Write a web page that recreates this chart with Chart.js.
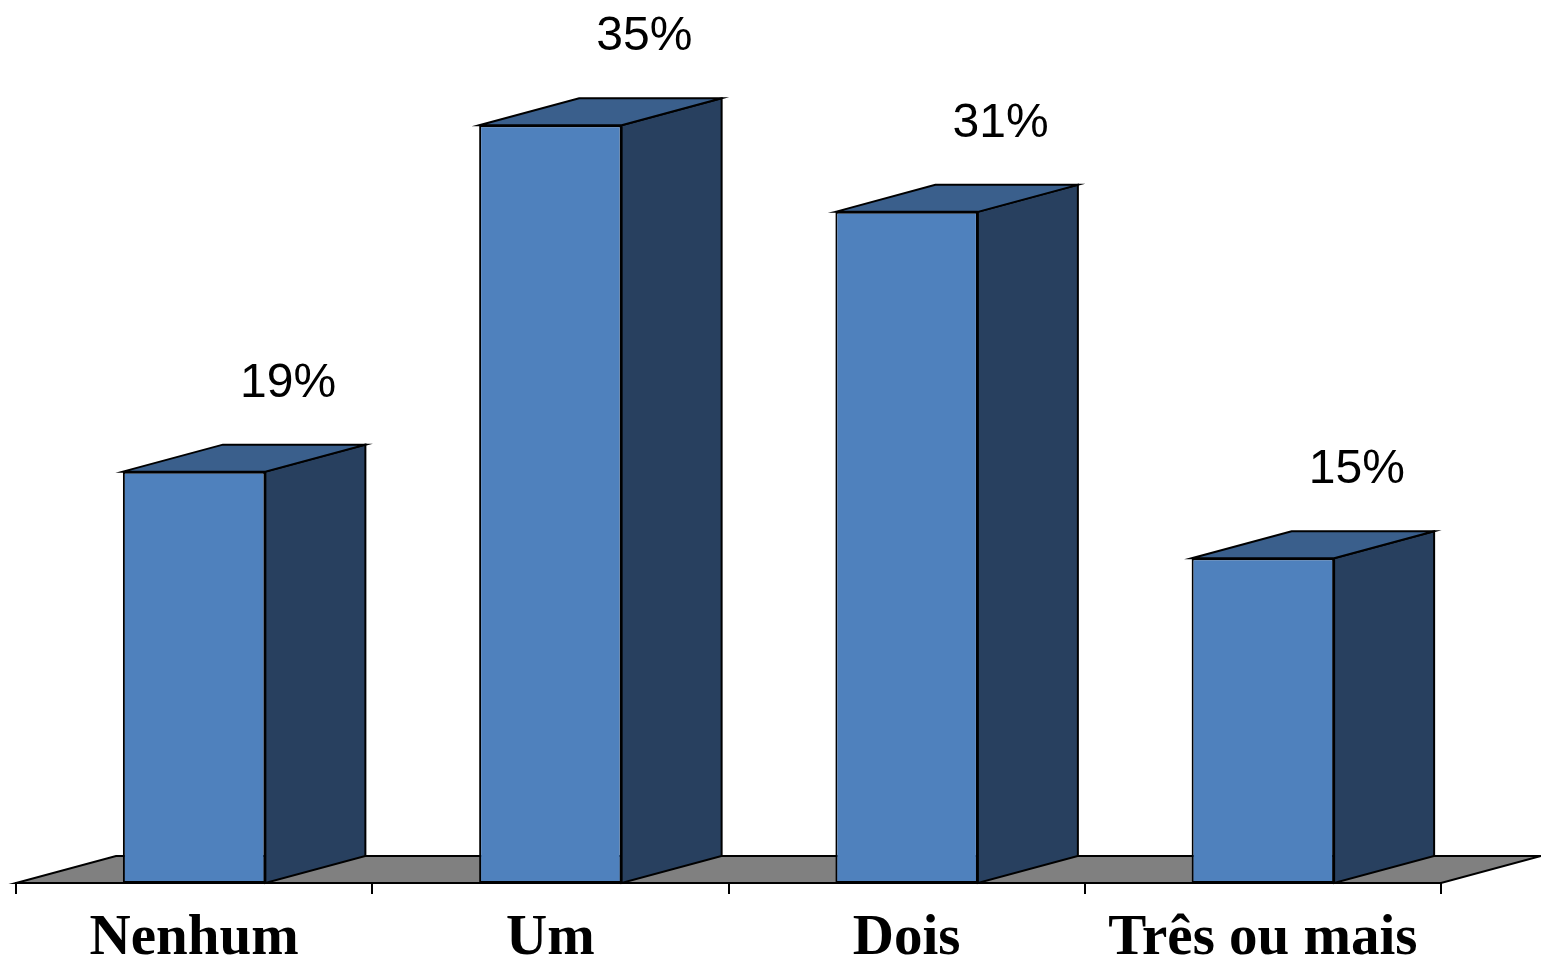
<!DOCTYPE html>
<html>
<head>
<meta charset="utf-8">
<script src="https://cdn.jsdelivr.net/npm/chart.js@4.4.0/dist/chart.umd.min.js"></script>
<style>
  html, body { margin: 0; padding: 0; background: #fff; }
  #wrap { width: 1541px; height: 961px; }
</style>
</head>
<body>
<div id="wrap"><canvas id="grafico"></canvas></div>
<script>
// dados
const categorias = ['Nenhum', 'Um', 'Dois', 'Três ou mais'];
const valores = [19, 35, 31, 15];
const rotulos = ['19%', '35%', '31%', '15%'];

// profundidade do efeito 3D
const PROF_X = 100;
const PROF_Y = -27;

const efeito3d = {
  id: 'efeito3d',
  beforeDatasetsDraw(chart) {
    const { ctx, chartArea } = chart;
    const base = chart.scales.y.getPixelForValue(0);
    // chão cinza
    ctx.save();
    ctx.beginPath();
    ctx.moveTo(chartArea.left, base);
    ctx.lineTo(chartArea.right, base);
    ctx.lineTo(chartArea.right + PROF_X, base + PROF_Y);
    ctx.lineTo(chartArea.left + PROF_X, base + PROF_Y);
    ctx.closePath();
    ctx.fillStyle = '#808080';
    ctx.fill();
    ctx.lineWidth = 2;
    ctx.strokeStyle = '#000';
    ctx.stroke();
    ctx.restore();
  },
  afterDatasetsDraw(chart) {
    const { ctx } = chart;
    const meta = chart.getDatasetMeta(0);
    ctx.save();
    ctx.lineWidth = 2;
    ctx.strokeStyle = '#000';
    meta.data.forEach((bar, i) => {
      const esq = bar.x - bar.width / 2;
      const dir = bar.x + bar.width / 2;
      const topo = bar.y;
      const base = bar.base;
      // lateral
      ctx.beginPath();
      ctx.moveTo(dir, topo);
      ctx.lineTo(dir + PROF_X, topo + PROF_Y);
      ctx.lineTo(dir + PROF_X, base + PROF_Y);
      ctx.lineTo(dir, base);
      ctx.closePath();
      ctx.fillStyle = '#28405F';
      ctx.fill();
      ctx.stroke();
      // tampa
      ctx.beginPath();
      ctx.moveTo(esq, topo);
      ctx.lineTo(esq + PROF_X, topo + PROF_Y);
      ctx.lineTo(dir + PROF_X, topo + PROF_Y);
      ctx.lineTo(dir, topo);
      ctx.closePath();
      ctx.fillStyle = '#3A5F8C';
      ctx.fill();
      ctx.stroke();

      // rótulo do valor
      ctx.fillStyle = '#000';
      ctx.font = '48px "Liberation Sans", Arial, sans-serif';
      ctx.textAlign = 'center';
      ctx.textBaseline = 'middle';
      ctx.fillText(rotulos[i], bar.x + 94, topo - 88);
    });
    ctx.restore();
  }
};

new Chart(document.getElementById('grafico'), {
  type: 'bar',
  data: {
    labels: categorias,
    datasets: [{
      data: valores,
      backgroundColor: '#4F81BD',
      borderColor: '#000',
      borderWidth: 2,
      borderSkipped: false,
      barPercentage: 0.4,
      categoryPercentage: 1
    }]
  },
  options: {
    responsive: true,
    maintainAspectRatio: false,
    animation: false,
    layout: { padding: { left: 16, right: 100, top: 17, bottom: 0 } },
    plugins: {
      legend: { display: false },
      tooltip: { enabled: false }
    },
    scales: {
      y: {
        display: false,
        min: 0,
        max: 40
      },
      x: {
        afterFit(scale) { scale.height = 78; },
        grid: {
          offset: true,
          drawOnChartArea: false,
          drawTicks: true,
          tickLength: 11,
          color: '#000',
          lineWidth: 2
        },
        border: { display: true, color: '#000', width: 2 },
        ticks: {
          color: '#000',
          padding: 17,
          maxRotation: 0,
          font: { family: '"Liberation Serif", "Times New Roman", serif', size: 57, weight: 'bold', lineHeight: 1.0 }
        }
      }
    }
  },
  plugins: [efeito3d]
});
</script>
</body>
</html>
